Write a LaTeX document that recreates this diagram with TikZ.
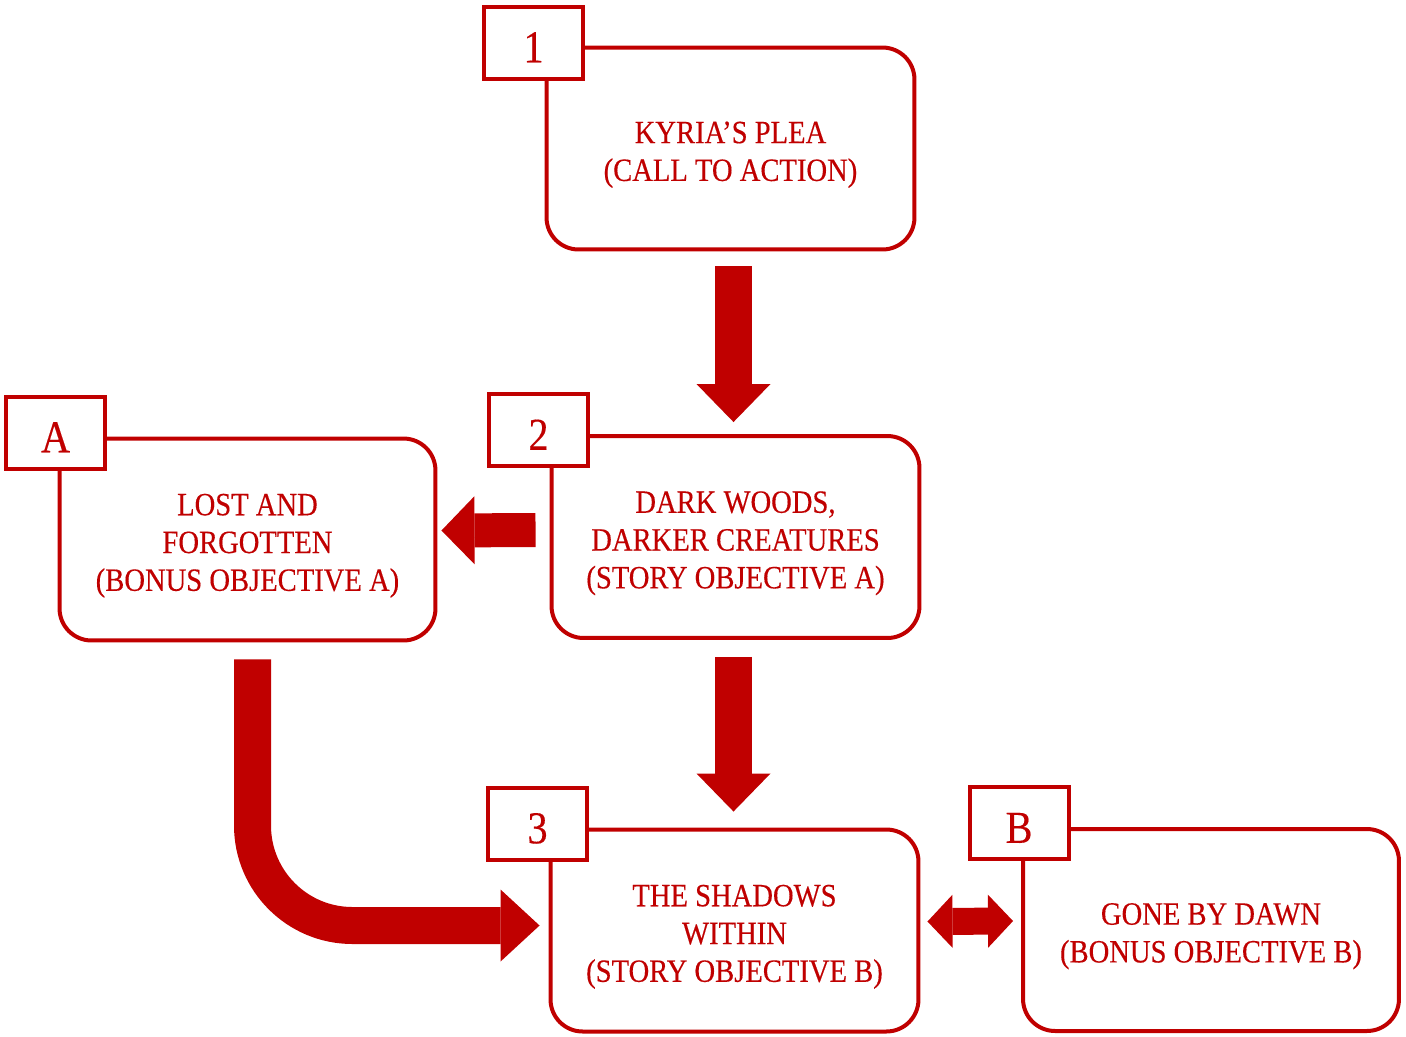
\documentclass[tikz,border=0pt]{standalone}
\usepackage{fontspec}
\setmainfont{Liberation Serif}[FakeStretch=0.88, FakeBold=0.3]
\usetikzlibrary{arrows.meta, calc, positioning}
\definecolor{darkred}{HTML}{C00000}
\newcommand{\boxlines}[1]{\raisebox{-3.4pt}[\height][\depth]{\begin{tabular}{@{}c@{}}#1\end{tabular}}}

\begin{document}
\begin{tikzpicture}[x=0.02cm, y=-0.02cm,
    box/.style={draw=darkred, line width=0.08cm, rounded corners=0.64cm, fill=white,
        minimum width=7.36cm, minimum height=4.04cm, text=darkred,
        font=\fontsize{18.5}{21.5}\selectfont},
    widebox/.style={box, minimum width=7.52cm},
    tag/.style={draw=darkred, line width=0.08cm, fill=white, minimum width=1.98cm,
        minimum height=1.44cm, text=darkred, font=\fontsize{26}{30}\selectfont,
        text height=22.5pt, text depth=0pt},
    bigarrow/.style={draw=darkred, line width=0.74cm,
        -{Triangle[width=1.48cm, length=0.76cm, line width=0pt]}},
    twoway/.style={draw=darkred, line width=0.54cm,
        {Triangle[width=1.06cm, length=0.5cm, line width=0pt]}-{Triangle[width=1.06cm, length=0.5cm, line width=0pt]}}]
    \useasboundingbox (0,0) rectangle (1406,1036);

    % boxes
    \node[box] (b1) at (730.5,148.5) {\boxlines{KYRIA’S PLEA\\(CALL TO ACTION)}};
    \node[box] (b2) at (735.5,537) {\boxlines{DARK WOODS,\\DARKER CREATURES\\(STORY OBJECTIVE A)}};
    \node[widebox] (bA) at (247.5,539.5) {\boxlines{LOST AND\\FORGOTTEN\\(BONUS OBJECTIVE A)}};
    \node[box] (b3) at (734.5,930.5) {\boxlines{THE SHADOWS\\WITHIN\\(STORY OBJECTIVE B)}};
    \node[widebox] (bB) at (1211,930) {\boxlines{GONE BY DAWN\\(BONUS OBJECTIVE B)}};

    % tags
    \node[tag] (t1) at ($(b1.north west)+(-11,-3)$) {1};
    \node[tag] (t2) at ($(b2.north west)+(-11,-4)$) {2};
    \node[tag] (tA) at ($(bA.north west)+(-2,-4)$) {A};
    \node[tag] (t3) at ($(b3.north west)+(-11,-4)$) {3};
    \node[tag] (tB) at ($(bB.north west)+(-2,-4)$) {B};

    % arrows
    \draw[bigarrow] ($(b1.south)+(3,15)$) -- ($(b2.north)+(-2,-12)$);
    \draw[bigarrow] ($(b2.south)+(-2,17)$) -- ($(b3.north)+(-1,-16)$);
    \draw[bigarrow, line width=0.68cm,
        -{Triangle[width=1.36cm, length=0.66cm, line width=0pt]}] ($(b2.west)+(-14,-7)$) -- ($(bA.east)+(4,-9)$);
    \draw[bigarrow, rounded corners=2cm,
        -{Triangle[width=1.44cm, length=0.78cm, line width=0pt]}] ($(bA.south)+(5,17)$) |- ($(b3.west)+(-9,-5)$);
    \draw[twoway] ($(b3.east)+(7,-9)$) -- ($(bB.west)+(-8,-9)$);
\end{tikzpicture}
\end{document}
